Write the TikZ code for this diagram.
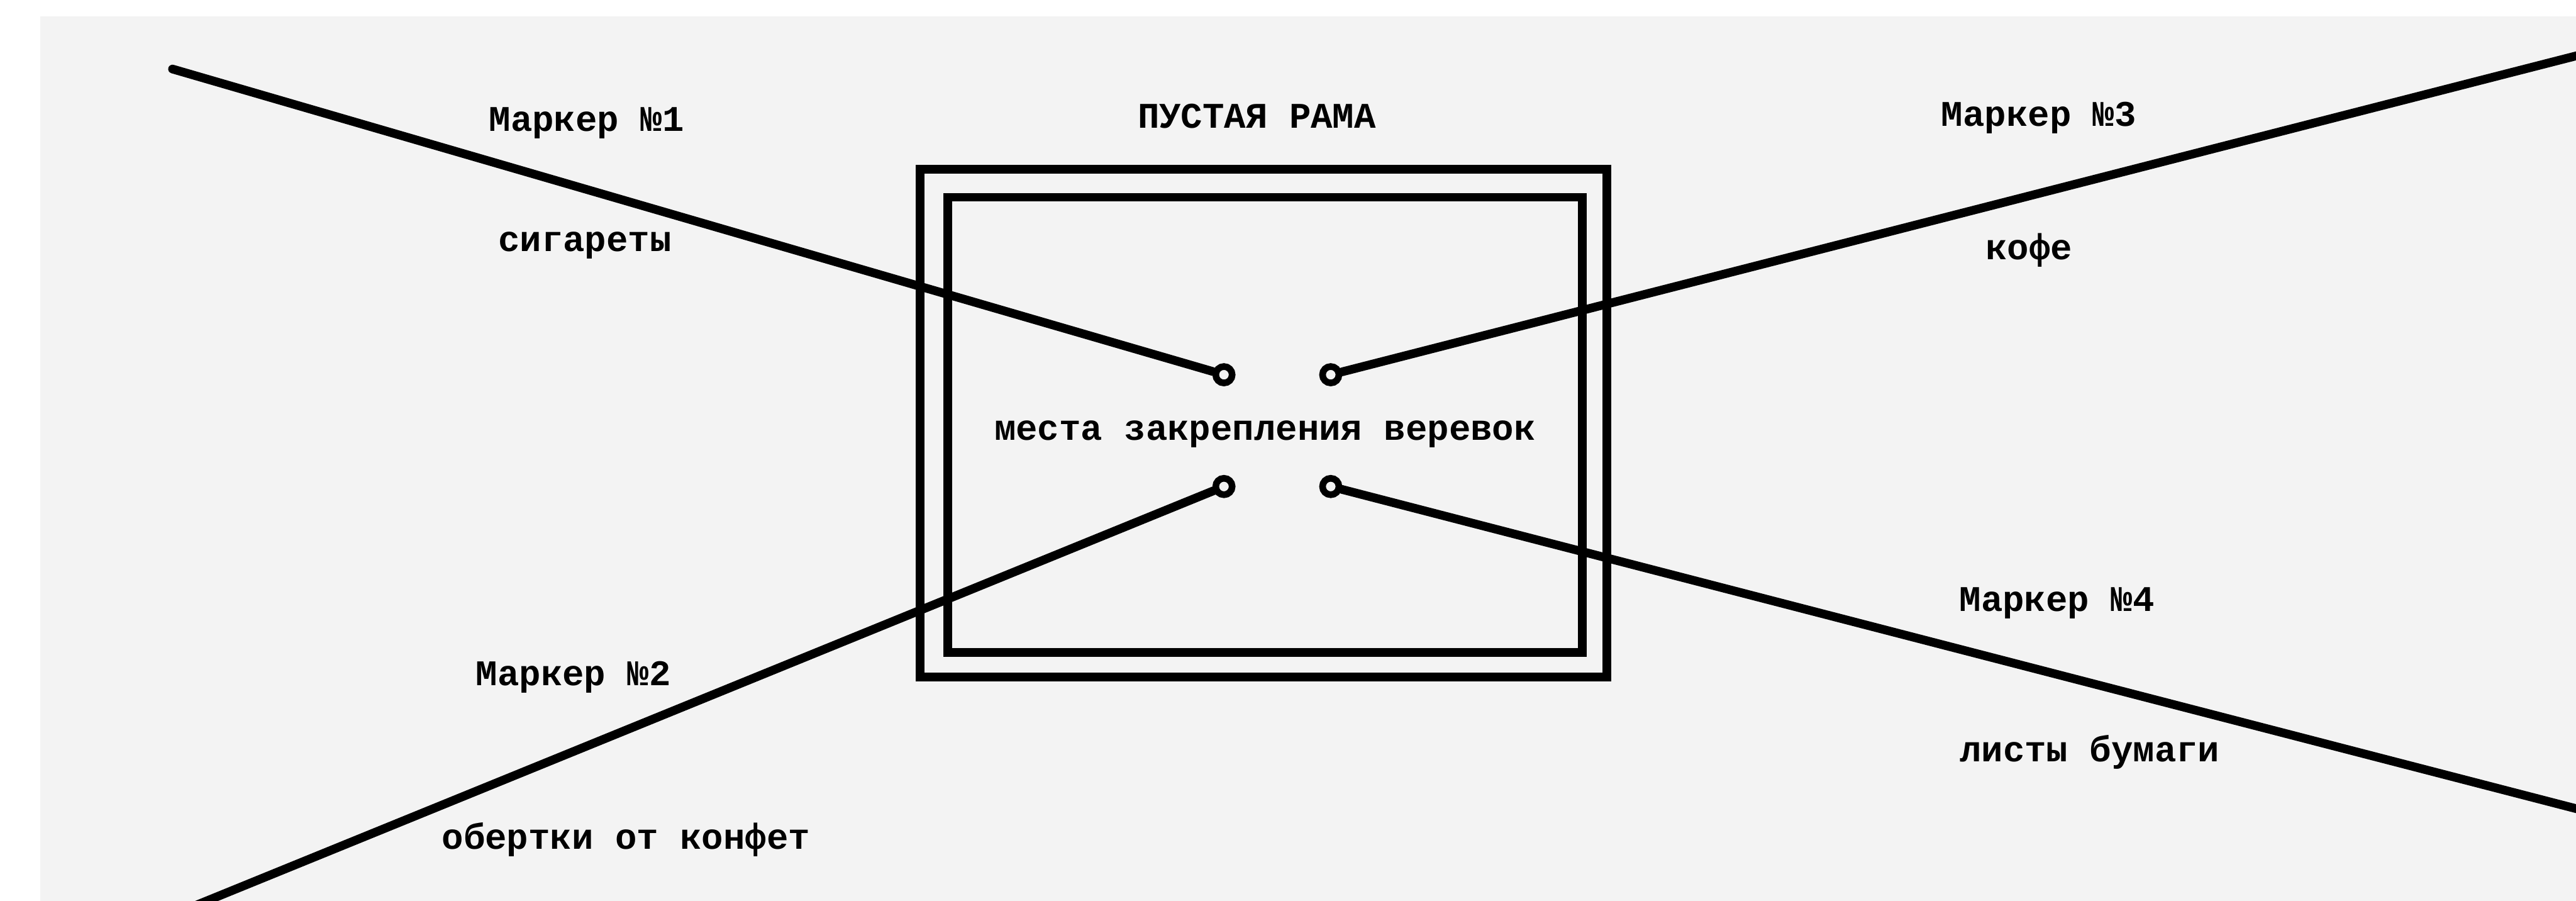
\documentclass[tikz,border=0pt]{standalone}
\usepackage{fontspec}
\setmonofont{Liberation Mono}
\definecolor{bggray}{HTML}{F3F3F3}
\tikzset{
  rope/.style={line width=3pt,line cap=round},
  ring/.style={circle,draw,line width=2.3pt,minimum size=0.2cm,inner sep=0pt},
  frame/.style={line width=3pt},
  lbl/.style={font=\fontsize{12.5}{15}\selectfont\ttfamily\bfseries,inner sep=0pt,text height=1.6ex,text depth=0.3ex}
}
\begin{document}
\begin{tikzpicture}
                \useasboundingbox (0,0) rectangle (31.36,10.96);
                \fill[white] (0,0) rectangle (31.36,10.96);
                \fill[bggray] (0.49,0) rectangle (31.36,10.76);
                % рама
                \draw[frame] (11.2,2.72) rectangle (19.56,8.9);
                \draw[frame] (11.54,3.02) rectangle (19.26,8.56);
                \node[lbl] (rama) at (15.3,9.5) {ПУСТАЯ РАМА};
                % места закрепления
                \node[ring] (p1) at (14.9,6.4) {};
                \node[ring] (p3) at (16.2,6.4) {};
                \node[ring] (p2) at (14.9,5.04) {};
                \node[ring] (p4) at (16.2,5.04) {};
                \node[lbl] (mesta) at (15.4,5.7) {места закрепления веревок};
                % веревки
                \coordinate (e1) at (2.1,10.12);
                \coordinate (e3) at (31.4,10.29);
                \coordinate (e2) at (2.4,-0.05);
                \coordinate (e4) at (31.4,1.11);
                \draw[rope] (e1) -- (p1);
                \draw[rope] (e3) -- (p3);
                \draw[rope] (e2) -- (p2);
                \draw[rope] (e4) -- (p4);
                % маркеры
                \node[lbl] (m1) at (7.14,9.46) {Маркер №1};
                \node[lbl] (t1) at (7.12,8.0) {сигареты};
                \node[lbl] (m3) at (24.82,9.52) {Маркер №3};
                \node[lbl] (t3) at (24.7,7.9) {кофе};
                \node[lbl] (m2) at (6.98,2.72) {Маркер №2};
                \node[lbl] (t2) at (7.62,0.73) {обертки от конфет};
                \node[lbl] (m4) at (25.04,3.62) {Маркер №4};
                \node[lbl] (t4) at (25.44,1.79) {листы бумаги};
            \end{tikzpicture}
\end{document}
